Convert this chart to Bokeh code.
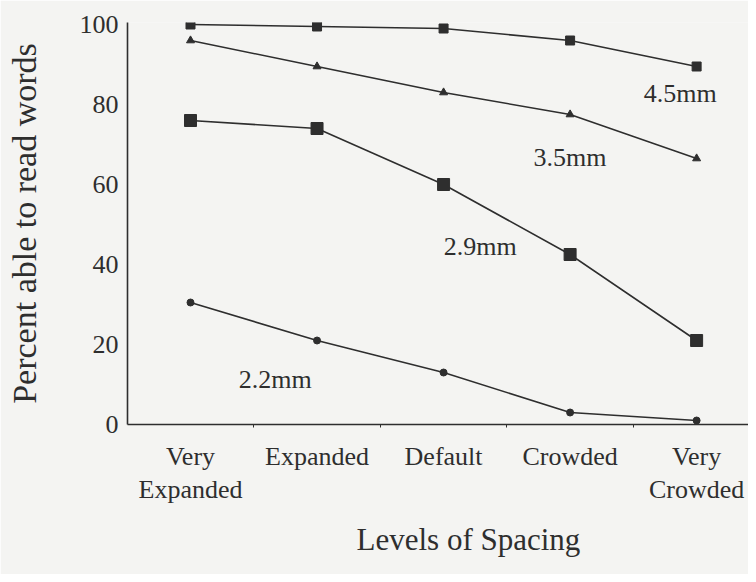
from bokeh.plotting import figure
from bokeh.models import Range1d, FixedTicker, Title
from bokeh.core.properties import value
from bokeh.embed import file_html
from bokeh.resources import INLINE

categories = ["Very\nExpanded", "Expanded", "Default", "Crowded", "Very\nCrowded"]
y_ticks = [0, 20, 40, 60, 80, 100]

s45 = [100, 99.5, 99, 96, 89.5]
s35 = [96, 89.5, 83, 77.5, 66.5]
s29 = [76, 74, 60, 42.5, 21]
s22 = [30.5, 21, 13, 3, 1]

series_names = ["4.5mm", "3.5mm", "2.9mm", "2.2mm"]
label_x = [3.87, 3.0, 2.29, 0.67]
label_y = [82.75, 66.75, 44.5, 11.25]

FONT = "'Liberation Serif', 'Times New Roman', serif"
INK = "#2e2e2e"
BG = "#f4f4f2"

xs = list(range(len(categories)))

p = figure(width=748, height=574, output_backend="svg", toolbar_location=None,
           x_range=Range1d(-0.498, 4.41), y_range=Range1d(0, 100.5),
           min_border_left=127, min_border_right=0, min_border_top=22,
           min_border_bottom=150)
p.background_fill_color = BG
p.border_fill_color = BG
p.outline_line_color = None
p.grid.visible = False

# series
p.line(xs, s45, line_color=INK, line_width=1.6)
p.scatter(xs, s45, marker="square", size=9, color=INK)
p.line(xs, s35, line_color=INK, line_width=1.6)
p.scatter(xs, s35, marker="triangle", size=8, color=INK)
p.line(xs, s29, line_color=INK, line_width=1.6)
p.scatter(xs, s29, marker="square", size=12, color=INK)
p.line(xs, s22, line_color=INK, line_width=1.6)
p.scatter(xs, s22, marker="circle", size=7, color=INK)

p.text(label_x, label_y, text=series_names, text_font=value(FONT),
       text_font_size="26px", text_color=INK, text_align="center",
       text_baseline="middle")

# x axis
xa = p.xaxis[0]
xa.ticker = FixedTicker(ticks=xs, minor_ticks=[0.5, 1.5, 2.5, 3.5])
xa.major_label_overrides = {i: c for i, c in enumerate(categories)}
xa.major_tick_out = 0
xa.major_tick_in = 0
xa.minor_tick_out = 3
xa.minor_tick_in = 0
xa.axis_line_color = INK
xa.axis_line_width = 1.6
xa.minor_tick_line_color = INK
xa.major_label_text_font = FONT
xa.major_label_text_font_size = "26px"
xa.major_label_text_color = INK
xa.major_label_standoff = 14
xa.major_label_text_line_height = 1.15

# y axis
ya = p.yaxis[0]
ya.ticker = FixedTicker(ticks=y_ticks)
ya.major_tick_out = 0
ya.major_tick_in = 0
ya.minor_tick_out = 0
ya.minor_tick_in = 0
ya.axis_line_color = INK
ya.axis_line_width = 1.6
ya.major_label_text_font = FONT
ya.major_label_text_font_size = "26px"
ya.major_label_text_color = INK
ya.major_label_standoff = 9
ya.axis_label = "Percent able to read words"
ya.axis_label_text_font = FONT
ya.axis_label_text_font_size = "34px"
ya.axis_label_text_font_style = "normal"
ya.axis_label_text_color = INK
ya.axis_label_standoff = 34

t = Title(text="Levels of Spacing", align="left", offset=229,
          vertical_align="bottom",
          text_font=FONT, text_font_size="31px", text_font_style="normal",
          text_color=INK, standoff=26)
p.add_layout(t, "below")

open("out.html", "w").write(file_html(p, INLINE))
